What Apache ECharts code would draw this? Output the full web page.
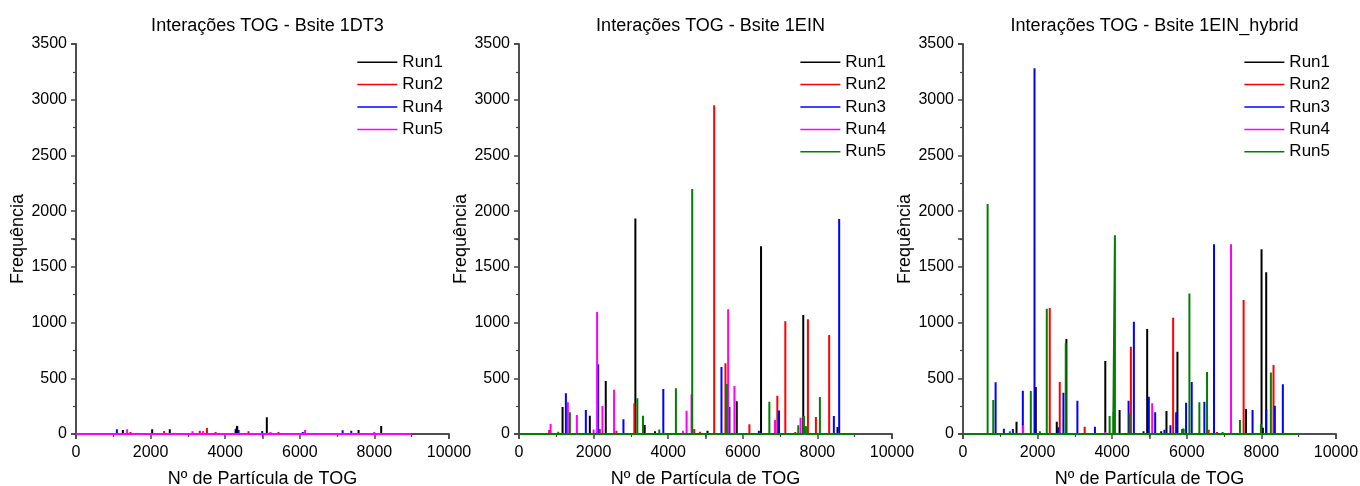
<!DOCTYPE html>
<html>
<head>
<meta charset="utf-8">
<script src="https://cdn.jsdelivr.net/npm/echarts@6/dist/echarts.min.js"></script>
<style>
  html, body { margin: 0; padding: 0; background: #fff; }
  #chart { width: 1360px; height: 486px; }
</style>
</head>
<body>
<div id="chart"></div>
<script>
// spikes: [particle number, frequency]
const dt3Run1 = [[1256,36],[1667,15],[2042,42],[2514,42],[2900,10],[3672,15],[4050,10],[4279,42],[4323,72],[5116,150],[7576,36],[7844,12],[8182,72]];
const dt3Run2 = [[1461,18],[1780,12],[2363,27],[3319,30],[3511,54],[3743,18],[4626,24],[5428,18],[6747,15],[8500,5]];
const dt3Run4 = [[1096,42],[4359,36],[4992,27],[6079,18],[7148,33],[7380,30]];
const dt3Run5 = [[820,9],[1372,42],[2250,10],[3123,24],[3408,27],[3904,15],[5214,18],[6141,36],[7996,18]];

const einRun1 = [[1168,242],[1899,164],[2326,476],[3120,1935],[3369,81],[3645,25],[5054,30],[5838,293],[6489,1684],[7621,1068],[8539,63]];
const einRun2 = [[810,35],[2166,45],[2612,30],[3093,275],[4697,45],[4850,20],[5233,2950],[5535,634],[6177,87],[6926,344],[7140,1011],[7407,18],[7746,1029],[7960,153],[8316,888]];
const einRun3 = [[1257,365],[1792,215],[2121,625],[2800,132],[3869,404],[5428,601],[5642,242],[6430,30],[6971,212],[8441,161],[8584,1930]];
const einRun4 = [[847,90],[1310,284],[1551,170],[2000,40],[2094,1095],[2237,251],[2549,398],[4395,30],[4492,209],[4626,356],[5607,1119],[5776,431],[6863,126],[7549,146]];
const einRun5 = [[686,15],[1052,20],[1364,195],[3173,320],[3324,164],[3761,40],[4207,410],[4644,2199],[5571,449],[6712,290],[7487,78],[7639,161],[7692,70],[8067,332]];

const hybRun1 = [[1435,111],[1952,422],[2514,111],[2772,853],[3815,655],[4198,215],[4840,24],[4938,942],[5314,24],[5455,206],[5749,739],[7586,224],[8004,1657],[8040,57],[8129,1451]];
const hybRun2 = [[2326,1131],[2594,467],[3262,66],[4501,784],[5634,1044],[6586,39],[6810,18],[7523,1203],[8325,619]];
const hybRun3 = [[874,464],[1096,48],[1337,45],[1604,389],[1917,3282],[2550,60],[2692,371],[3067,299],[3537,66],[4439,299],[4581,1008],[4982,335],[5152,195],[5400,39],[5561,78],[5714,195],[5981,281],[6132,467],[6471,290],[6730,1702],[7763,215],[8129,224],[8361,254],[8575,446]];
const hybRun4 = [[1613,78],[3810,18],[5072,275],[7185,1702]];
const hybRun5 = [[660,2064],[811,305],[1256,24],[1818,386],[2060,24],[2246,1125],[2755,814],[3931,162],[4027,195],[4073,1783],[4465,185],[5870,45],[5915,48],[6070,1262],[6337,284],[6543,557],[6960,18],[7425,126],[7987,90],[8254,553]];

const titles = ['Interações TOG - Bsite 1DT3', 'Interações TOG - Bsite 1EIN', 'Interações TOG - Bsite 1EIN_hybrid'];
const xEnd = 9000;

const panels = [
  { left: 76, runs: [['Run1', dt3Run1, '#000000'], ['Run2', dt3Run2, '#ff0000'], ['Run4', dt3Run4, '#0000ff'], ['Run5', dt3Run5, '#ff00ff']] },
  { left: 519, runs: [['Run1', einRun1, '#000000'], ['Run2', einRun2, '#ff0000'], ['Run3', einRun3, '#0000ff'], ['Run4', einRun4, '#ff00ff'], ['Run5', einRun5, '#008000']] },
  { left: 963, runs: [['Run1', hybRun1, '#000000'], ['Run2', hybRun2, '#ff0000'], ['Run3', hybRun3, '#0000ff'], ['Run4', hybRun4, '#ff00ff'], ['Run5', hybRun5, '#008000']] }
];

const W = 373, TOP = 44, H = 390;
const font = 'Liberation Sans, Arial, sans-serif';
const axisColor = '#444';

function spikes(list) {
  const pts = [[0, 0]];
  list.slice().sort((a, b) => a[0] - b[0]).forEach(([x, v]) => {
    pts.push([x, 0], [x, v], [x, 0]);
  });
  pts.push([xEnd, 0]);
  return pts;
}

const grid = [], xAxis = [], yAxis = [], series = [], legend = [], title = [];

panels.forEach((p, i) => {
  grid.push({ left: p.left, top: TOP, width: W, height: H, outerBoundsMode: 'none', containLabel: false });
  title.push({
    text: titles[i], left: p.left + W / 2, top: 12, textAlign: 'center',
    textStyle: { fontSize: 18, fontWeight: 'normal', color: '#000', fontFamily: font }
  });
  xAxis.push({
    type: 'value', gridIndex: i, min: 0, max: 10000, interval: 2000,
    name: 'Nº de Partícula de TOG', nameLocation: 'middle', nameGap: 36,
    nameTextStyle: { fontSize: 18, color: '#000', fontFamily: font },
    axisLine: { show: true, lineStyle: { color: axisColor, width: 1.5 } },
    axisTick: { show: true, length: 5, lineStyle: { color: axisColor, width: 1.5 } },
    minorTick: { show: true, splitNumber: 2, length: 3, lineStyle: { color: axisColor, width: 1.2 } },
    splitLine: { show: false },
    axisLabel: { fontSize: 16, color: '#000', margin: 11, fontFamily: font, formatter: v => String(v) }
  }, {
    type: 'value', gridIndex: i, position: 'top', min: 0, max: 10000, interval: 5000,
    axisLine: { show: true, lineStyle: { color: axisColor, width: 1.5 } },
    axisTick: { show: true, inside: true, length: 5, lineStyle: { color: axisColor, width: 1.5 } },
    axisLabel: { show: false }, splitLine: { show: false }
  });
  yAxis.push({
    type: 'value', gridIndex: i, min: 0, max: 3500, interval: 500,
    name: 'Frequência', nameLocation: 'middle', nameGap: 48,
    nameTextStyle: { fontSize: 18, color: '#000', fontFamily: font },
    axisLine: { show: true, lineStyle: { color: axisColor, width: 1.5 } },
    axisTick: { show: true, length: 5, lineStyle: { color: axisColor, width: 1.5 } },
    minorTick: { show: true, splitNumber: 2, length: 3, lineStyle: { color: axisColor, width: 1.2 } },
    splitLine: { show: false },
    axisLabel: { fontSize: 16, color: '#000', margin: 9, fontFamily: font, formatter: v => String(v) }
  }, {
    type: 'value', gridIndex: i, position: 'right', min: 0, max: 3500, interval: 1750,
    axisLine: { show: true, lineStyle: { color: axisColor, width: 1.5 } },
    axisTick: { show: true, inside: true, length: 5, lineStyle: { color: axisColor, width: 1.5 } },
    axisLabel: { show: false }, splitLine: { show: false }
  });
  const names = [];
  p.runs.forEach(([name, data, color]) => {
    const key = i + '|' + name;
    names.push(key);
    series.push({
      name: key, type: 'line', xAxisIndex: i * 2, yAxisIndex: i * 2,
      data: spikes(data), showSymbol: false, symbol: 'none',
      lineStyle: { color: color, width: 2 }, itemStyle: { color: color },
      animation: false
    });
  });
  legend.push({
    data: names, orient: 'vertical', right: 1360 - (p.left + W - 6), top: 51,
    icon: 'rect', itemWidth: 40, itemHeight: 1.5, itemGap: 0, padding: 0,
    selectedMode: false,
    formatter: n => n.split('|')[1],
    textStyle: { fontSize: 17, lineHeight: 22.4, color: '#000', fontFamily: font }
  });
});

const chart = echarts.init(document.getElementById('chart'));
chart.setOption({
  animation: false,
  textStyle: { fontFamily: font },
  title, grid, xAxis, yAxis, legend, series
});
</script>
</body>
</html>
